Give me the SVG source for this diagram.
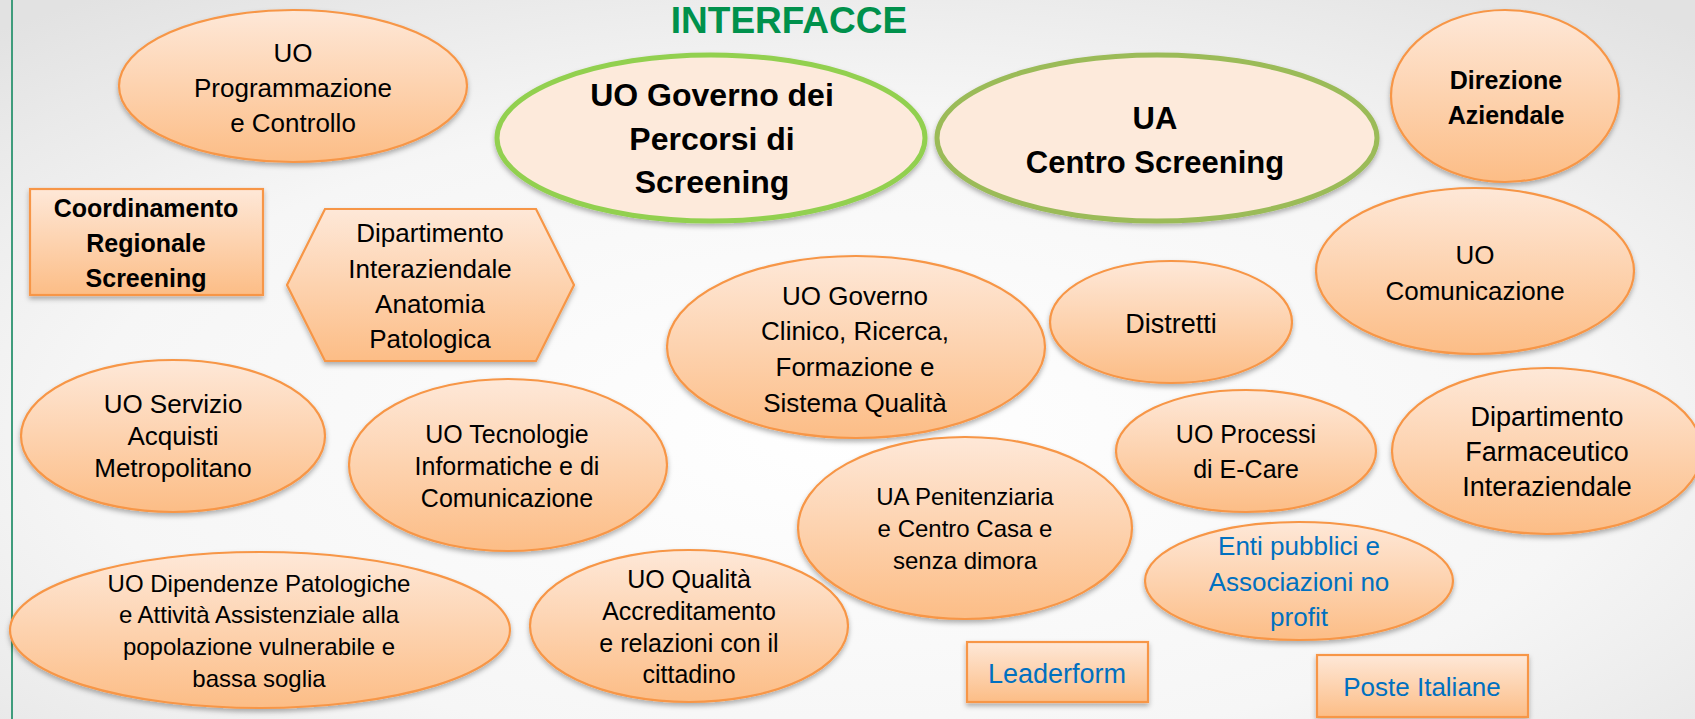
<svg xmlns="http://www.w3.org/2000/svg" width="1695" height="719" viewBox="0 0 1695 719">
  <defs>
    <radialGradient id="bg" cx="50%" cy="60%" r="75%">
      <stop offset="0" stop-color="#ffffff"/>
      <stop offset="0.6" stop-color="#f6f6f6"/>
      <stop offset="1" stop-color="#e2e2e2"/>
    </radialGradient>
    <linearGradient id="og" x1="0" y1="0" x2="0" y2="1">
      <stop offset="0" stop-color="#fee8d8"/>
      <stop offset="1" stop-color="#fcbd86"/>
    </linearGradient>
    <filter id="sh" x="-10%" y="-10%" width="120%" height="130%">
      <feDropShadow dx="0" dy="3" stdDeviation="2.5" flood-color="#000" flood-opacity="0.3"/>
    </filter>
    <style>
      .o { fill: url(#og); stroke: #f79646; stroke-width: 2.2; filter: url(#sh); }
      .k { fill: #fdeadb; stroke-width: 5; filter: url(#sh); }
      text { font-family: "Liberation Sans", Arial, sans-serif; fill: #000; text-anchor: middle; }
      .b { font-weight: bold; }
      .blue { fill: #0070c0; }
      .title { font-weight: bold; fill: #00914c; font-size: 37px; }
    </style>
  </defs>

  <rect x="0" y="0" width="1695" height="719" fill="url(#bg)"/>
  <line x1="12" y1="0" x2="12" y2="719" stroke="#3f9c7c" stroke-width="2"/>

  <text class="title" x="789" y="33">INTERFACCE</text>

  <g id="connectors"></g>

  <g id="n-programmazione">
    <ellipse class="o" cx="293" cy="86" rx="174" ry="76"/>
    <text font-size="26"><tspan x="293" y="62">UO</tspan><tspan x="293" y="97">Programmazione</tspan><tspan x="293" y="132">e Controllo</tspan></text>
  </g>

  <g id="n-governo-percorsi">
    <ellipse class="k" cx="711" cy="138" rx="214" ry="83" stroke="#92d050"/>
    <text class="b" font-size="32"><tspan x="712" y="106">UO Governo dei</tspan><tspan x="712" y="150">Percorsi di</tspan><tspan x="712" y="193">Screening</tspan></text>
  </g>

  <g id="n-centro-screening">
    <ellipse class="k" cx="1157" cy="138" rx="220" ry="83" stroke="#9bbb59"/>
    <text class="b" font-size="31"><tspan x="1155" y="129">UA</tspan><tspan x="1155" y="173">Centro Screening</tspan></text>
  </g>

  <g id="n-direzione">
    <ellipse class="o" cx="1505" cy="96" rx="114" ry="86"/>
    <text class="b" font-size="25"><tspan x="1506" y="89">Direzione</tspan><tspan x="1506" y="124">Aziendale</tspan></text>
  </g>

  <g id="n-coordinamento">
    <rect class="o" x="30" y="189" width="233" height="106"/>
    <text class="b" font-size="25"><tspan x="146" y="217">Coordinamento</tspan><tspan x="146" y="252">Regionale</tspan><tspan x="146" y="287">Screening</tspan></text>
  </g>

  <g id="n-anatomia">
    <polygon class="o" points="287,285 325,209 536,209 574,285 536,361 325,361"/>
    <text font-size="26"><tspan x="430" y="242">Dipartimento</tspan><tspan x="430" y="278">Interaziendale</tspan><tspan x="430" y="313">Anatomia</tspan><tspan x="430" y="348">Patologica</tspan></text>
  </g>

  <g id="n-comunicazione">
    <ellipse class="o" cx="1475" cy="271" rx="159" ry="83"/>
    <text font-size="26"><tspan x="1475" y="264">UO</tspan><tspan x="1475" y="300">Comunicazione</tspan></text>
  </g>

  <g id="n-distretti">
    <ellipse class="o" cx="1171" cy="322" rx="121" ry="61"/>
    <text font-size="27" x="1171" y="333">Distretti</text>
  </g>

  <g id="n-governo-clinico">
    <ellipse class="o" cx="856" cy="347" rx="189" ry="91"/>
    <text font-size="26"><tspan x="855" y="305">UO Governo</tspan><tspan x="855" y="340">Clinico, Ricerca,</tspan><tspan x="855" y="376">Formazione e</tspan><tspan x="855" y="412">Sistema Qualità</tspan></text>
  </g>

  <g id="n-servizio-acquisti">
    <ellipse class="o" cx="173" cy="436" rx="152" ry="76"/>
    <text font-size="26"><tspan x="173" y="413">UO Servizio</tspan><tspan x="173" y="445">Acquisti</tspan><tspan x="173" y="477">Metropolitano</tspan></text>
  </g>

  <g id="n-tecnologie">
    <ellipse class="o" cx="508" cy="465" rx="159" ry="86"/>
    <text font-size="25"><tspan x="507" y="443">UO Tecnologie</tspan><tspan x="507" y="475">Informatiche e di</tspan><tspan x="507" y="507">Comunicazione</tspan></text>
  </g>

  <g id="n-processi">
    <ellipse class="o" cx="1246" cy="451" rx="130" ry="61"/>
    <text font-size="25"><tspan x="1246" y="443">UO Processi</tspan><tspan x="1246" y="478">di E-Care</tspan></text>
  </g>

  <g id="n-farmaceutico">
    <ellipse class="o" cx="1547" cy="451" rx="155" ry="83"/>
    <text font-size="27"><tspan x="1547" y="426">Dipartimento</tspan><tspan x="1547" y="461">Farmaceutico</tspan><tspan x="1547" y="496">Interaziendale</tspan></text>
  </g>

  <g id="n-penitenziaria">
    <ellipse class="o" cx="965" cy="528" rx="167" ry="91"/>
    <text font-size="24"><tspan x="965" y="505">UA Penitenziaria</tspan><tspan x="965" y="537">e Centro Casa e</tspan><tspan x="965" y="569">senza dimora</tspan></text>
  </g>

  <g id="n-enti">
    <ellipse class="o" cx="1299" cy="581" rx="154" ry="59"/>
    <text class="blue" font-size="26"><tspan x="1299" y="555">Enti pubblici e</tspan><tspan x="1299" y="591">Associazioni no</tspan><tspan x="1299" y="626">profit</tspan></text>
  </g>

  <g id="n-dipendenze">
    <ellipse class="o" cx="260" cy="630" rx="250" ry="78"/>
    <text font-size="24"><tspan x="259" y="592">UO Dipendenze Patologiche</tspan><tspan x="259" y="623">e Attività Assistenziale alla</tspan><tspan x="259" y="655">popolazione vulnerabile e</tspan><tspan x="259" y="687">bassa soglia</tspan></text>
  </g>

  <g id="n-qualita">
    <ellipse class="o" cx="689" cy="626" rx="159" ry="76"/>
    <text font-size="25"><tspan x="689" y="588">UO Qualità</tspan><tspan x="689" y="620">Accreditamento</tspan><tspan x="689" y="652">e relazioni con il</tspan><tspan x="689" y="683">cittadino</tspan></text>
  </g>

  <g id="n-leaderform">
    <rect class="o" x="967" y="642" width="181" height="60"/>
    <text class="blue" font-size="27" x="1057" y="683">Leaderform</text>
  </g>

  <g id="n-poste">
    <rect class="o" x="1317" y="655" width="211" height="62"/>
    <text class="blue" font-size="26" x="1422" y="696">Poste Italiane</text>
  </g>
</svg>
